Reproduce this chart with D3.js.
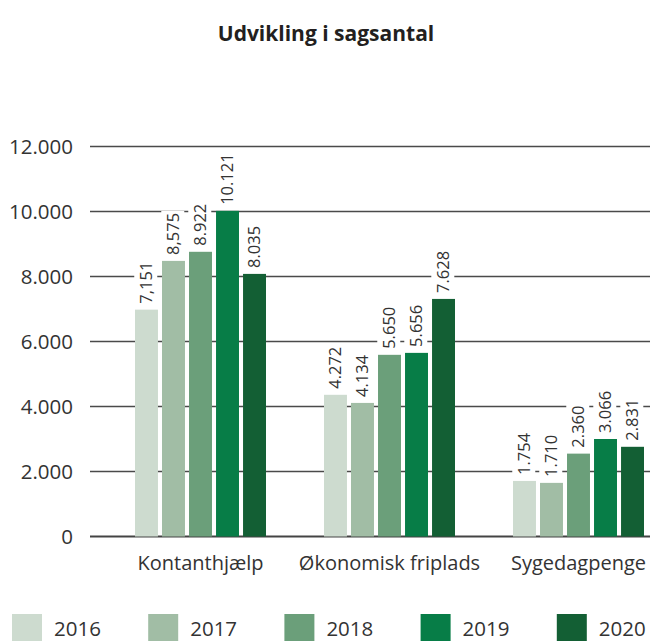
<!DOCTYPE html>
<html>
<head>
<meta charset="utf-8">
<script src="https://cdn.jsdelivr.net/npm/d3@7"></script>
<style>
  html, body { margin: 0; padding: 0; background: #fff; }
  svg { display: block; font-family: "Open Sans", sans-serif; }
</style>
</head>
<body>
<div class="graph"></div>
<script>
// Kategorier og år
const kategorier = ["Kontanthjælp", "Økonomisk friplads", "Sygedagpenge"];
const år = ["2016", "2017", "2018", "2019", "2020"];

// Søjlehøjder som de er tegnet i billedet (pr. kategori, et tal pr. år)
const kontanthjælp = [6980, 8480, 8760, 10020, 8080];
const økonomiskFriplads = [4360, 4110, 5590, 5650, 7310];
const sygedagpenge = [1710, 1650, 2550, 3000, 2760];

// Dataetiketter som de står i billedet
const etiketterKontanthjælp = ["7,151", "8,575", "8.922", "10.121", "8.035"];
const etiketterFriplads = ["4.272", "4.134", "5.650", "5.656", "7.628"];
const etiketterSygedagpenge = ["1.754", "1.710", "2.360", "3.066", "2.831"];

const yTicks = [0, 2000, 4000, 6000, 8000, 10000, 12000];
const farver = ["#cddbcf", "#a1bda5", "#6b9f7a", "#077d47", "#135f34"];

const serier = [kontanthjælp, økonomiskFriplads, sygedagpenge];
const etiketter = [etiketterKontanthjælp, etiketterFriplads, etiketterSygedagpenge];

const width = 650;
const height = 641;

const svg = d3.select(".graph")
    .append("svg")
    .attr("width", width)
    .attr("height", height);

// Titel
svg.append("text")
    .attr("x", 326)
    .attr("y", 41)
    .attr("text-anchor", "middle")
    .attr("font-size", 21)
    .attr("font-weight", "bold")
    .attr("fill", "#231f20")
    .text("Udvikling i sagsantal");

// Skalaer
const xScale = d3.scaleBand()
    .domain(kategorier)
    .range([106, 673])
    .paddingInner(0)
    .paddingOuter(0);

const xInner = d3.scaleBand()
    .domain(år)
    .range([-65.5, 65.5])
    .paddingInner(0.15);

const yScale = d3.scaleLinear()
    .domain([0, 12000])
    .range([536.5, 146.5]);

const fmt = d => d === 0 ? "0" : d3.format(",")(d).replace(",", ".");

// Gitterlinjer
svg.append("g")
    .selectAll("line")
    .data(yTicks)
    .enter()
    .append("line")
    .attr("x1", 90)
    .attr("x2", width)
    .attr("y1", d => yScale(d))
    .attr("y2", d => yScale(d))
    .attr("stroke", d => d === 0 ? "#444" : "#4a4a4a")
    .attr("stroke-width", d => d === 0 ? 2 : 1.4);

// Y-akse etiketter
const yAxis = d3.axisLeft(yScale)
    .tickValues(yTicks)
    .tickFormat(fmt)
    .tickSize(0)
    .tickPadding(0);

const yG = svg.append("g")
    .attr("transform", "translate(73,0)")
    .call(yAxis);
yG.select(".domain").remove();
yG.selectAll("text")
    .attr("font-size", 20.5)
    .attr("font-family", "Open Sans, sans-serif")
    .attr("fill", "#333");

// Søjler
const grupper = svg.append("g")
    .selectAll("g")
    .data(kategorier)
    .enter()
    .append("g")
    .attr("transform", d => `translate(${xScale(d) + xScale.bandwidth() / 2},0)`);

grupper.selectAll("rect")
    .data((d, i) => serier[i].map((v, j) => ({ år: år[j], v: v, label: etiketter[i][j], farve: farver[j] })))
    .enter()
    .append("rect")
    .attr("x", d => xInner(d.år))
    .attr("width", xInner.bandwidth())
    .attr("y", d => yScale(d.v))
    .attr("height", d => yScale(0) - yScale(d.v))
    .attr("fill", d => d.farve);

// Dataetiketter (lodrette, med hvid baggrund)
const etiket = grupper.selectAll("g.etiket")
    .data((d, i) => serier[i].map((v, j) => ({ år: år[j], v: v, label: etiketter[i][j] })))
    .enter()
    .append("g")
    .attr("class", "etiket")
    .attr("transform", d => `translate(${xInner(d.år) + xInner.bandwidth() / 2},${yScale(d.v) - 6}) rotate(-90)`);

etiket.append("text")
    .attr("x", 0)
    .attr("y", 0)
    .attr("dy", "0.35em")
    .attr("font-size", 16.5)
    .attr("fill", "#333")
    .text(d => d.label)
    .each(function () {
        const bb = this.getBBox();
        d3.select(this.parentNode).insert("rect", "text")
            .attr("x", bb.x - 2)
            .attr("y", bb.y)
            .attr("width", bb.width + 4)
            .attr("height", bb.height)
            .attr("fill", "#fff");
    });

// Kategori-etiketter
svg.append("g")
    .selectAll("text")
    .data(kategorier)
    .enter()
    .append("text")
    .attr("x", d => xScale(d) + xScale.bandwidth() / 2)
    .attr("y", 570)
    .attr("text-anchor", "middle")
    .attr("font-size", 20)
    .attr("fill", "#333")
    .text(d => d);

// Forklaring
const forklaring = svg.append("g")
    .selectAll("g")
    .data(år)
    .enter()
    .append("g")
    .attr("transform", (d, i) => `translate(${12 + i * 136.2},614)`);

forklaring.append("rect")
    .attr("width", 30)
    .attr("height", 27)
    .attr("fill", (d, i) => farver[i]);

forklaring.append("text")
    .attr("x", 42)
    .attr("y", 22)
    .attr("font-size", 20.5)
    .attr("fill", "#333")
    .text(d => d);
</script>
</body>
</html>
